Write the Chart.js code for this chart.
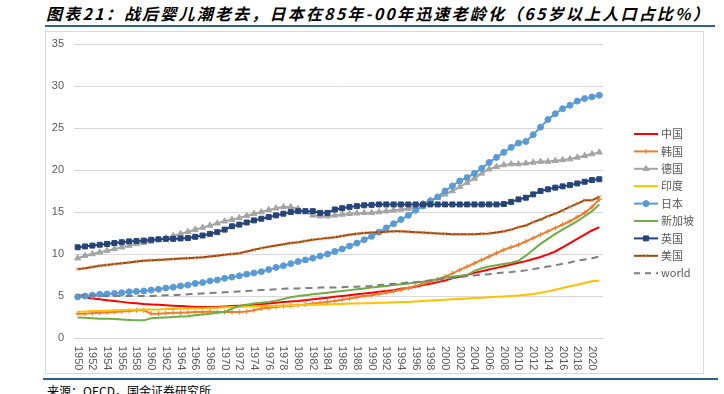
<!DOCTYPE html>
<html>
<head>
<meta charset="utf-8">
<script src="https://cdn.jsdelivr.net/npm/chart.js@4/dist/chart.umd.min.js"></script>
<style>
  body { margin: 0; width: 724px; height: 394px; overflow: hidden; background: #fff; font-family: "Noto Sans CJK SC", "Liberation Sans", sans-serif; }
  #title { position: absolute; left: 46px; top: 1px; font-size: 16px; font-weight: bold; font-style: italic; color: #000; letter-spacing: 2.2px; white-space: nowrap; }
  .rule { position: absolute; height: 2px; background: #2f5f86; }
  #box { position: absolute; left: 45px; top: 31px; width: 657px; height: 341px; border: 1px solid #d9d9d9; }
  #source { position: absolute; left: 47px; top: 382px; font-size: 12px; color: #000; white-space: nowrap; }
</style>
</head>
<body>
<div id="title">图表21：战后婴儿潮老去，日本在85年-00年迅速老龄化（65岁以上人口占比%）</div>
<div class="rule" style="left:45px; top:25px; width:670px;"></div>
<div id="box"><canvas id="chart" width="657" height="341"></canvas></div>
<div class="rule" style="left:43px; top:378px; width:675px;"></div>
<div id="source">来源：OECD，国金证券研究所</div>
<script>
var years = [];
for (var y = 1950; y <= 2021; y++) years.push(String(y));

var china = [5.0, 4.85, 4.7, 4.6, 4.5, 4.4, 4.3, 4.2, 4.15, 4.05, 4.0, 3.95, 3.9, 3.85, 3.8, 3.75, 3.7, 3.7, 3.7, 3.7,
  3.75, 3.8, 3.85, 3.9, 3.95, 4.05, 4.1, 4.2, 4.3, 4.35, 4.4, 4.5, 4.6, 4.7, 4.8, 4.9, 5.0, 5.1, 5.2, 5.3,
  5.4, 5.5, 5.6, 5.7, 5.85, 5.95, 6.1, 6.3, 6.45, 6.65, 6.85, 7.1, 7.3, 7.5, 7.75, 7.95, 8.15, 8.35, 8.55, 8.75,
  8.95, 9.15, 9.4, 9.65, 9.95, 10.3, 10.8, 11.3, 11.8, 12.3, 12.8, 13.2];
var korea = [2.9, 2.9, 2.95, 3.0, 3.05, 3.1, 3.15, 3.2, 3.3, 3.3, 2.9, 2.9, 2.95, 3.0, 3.0, 3.05, 3.1, 3.1, 3.15, 3.1,
  3.1, 3.1, 3.1, 3.15, 3.3, 3.5, 3.6, 3.7, 3.8, 3.85, 3.9, 4.0, 4.1, 4.2, 4.3, 4.4, 4.55, 4.7, 4.85, 5.0,
  5.1, 5.25, 5.4, 5.55, 5.75, 5.95, 6.2, 6.45, 6.7, 7.0, 7.3, 7.7, 8.1, 8.5, 8.9, 9.3, 9.7, 10.1, 10.5, 10.8,
  11.1, 11.5, 11.9, 12.3, 12.7, 13.1, 13.5, 13.9, 14.4, 14.9, 15.6, 16.5];
var germany = [9.5, 9.8, 10.0, 10.2, 10.4, 10.6, 10.8, 11.0, 11.2, 11.35, 11.5, 11.7, 11.9, 12.15, 12.4, 12.65, 12.9, 13.15, 13.4, 13.65,
  13.9, 14.1, 14.3, 14.55, 14.8, 15.0, 15.25, 15.45, 15.6, 15.6, 15.4, 15.0, 14.6, 14.5, 14.5, 14.6, 14.7, 14.8, 14.85, 14.9,
  14.9, 15.0, 15.1, 15.2, 15.3, 15.4, 15.6, 16.0, 16.4, 16.7, 17.1, 17.5, 18.0, 18.5, 19.0, 19.6, 20.1, 20.4, 20.6, 20.7,
  20.7, 20.8, 20.9, 21.0, 21.0, 21.1, 21.2, 21.3, 21.5, 21.7, 21.9, 22.1];
var india = [3.1, 3.15, 3.2, 3.2, 3.25, 3.3, 3.3, 3.35, 3.35, 3.4, 3.4, 3.4, 3.45, 3.45, 3.5, 3.5, 3.55, 3.55, 3.6, 3.6,
  3.65, 3.7, 3.7, 3.75, 3.75, 3.8, 3.8, 3.85, 3.85, 3.9, 3.9, 3.95, 3.95, 4.0, 4.0, 4.05, 4.05, 4.1, 4.1, 4.15,
  4.15, 4.2, 4.2, 4.25, 4.3, 4.3, 4.35, 4.4, 4.45, 4.5, 4.55, 4.6, 4.65, 4.7, 4.75, 4.8, 4.85, 4.9, 4.95, 5.0,
  5.05, 5.15, 5.25, 5.4, 5.55, 5.75, 5.95, 6.15, 6.35, 6.55, 6.75, 6.85];
var japan = [4.9, 5.0, 5.1, 5.2, 5.25, 5.3, 5.4, 5.5, 5.55, 5.6, 5.7, 5.8, 5.95, 6.05, 6.2, 6.3, 6.5, 6.6, 6.8, 6.9,
  7.1, 7.25, 7.4, 7.6, 7.75, 7.9, 8.15, 8.4, 8.6, 8.85, 9.1, 9.3, 9.5, 9.75, 10.0, 10.3, 10.6, 10.95, 11.3, 11.7,
  12.1, 12.6, 13.1, 13.6, 14.1, 14.6, 15.2, 15.7, 16.3, 16.8, 17.5, 18.1, 18.7, 19.1, 19.6, 20.2, 20.9, 21.5, 22.1, 22.7,
  23.2, 23.4, 24.2, 25.1, 26.0, 26.7, 27.3, 27.7, 28.2, 28.5, 28.7, 28.9];
var singapore = [2.45, 2.4, 2.35, 2.3, 2.3, 2.25, 2.2, 2.15, 2.1, 2.1, 2.35, 2.4, 2.45, 2.5, 2.55, 2.6, 2.7, 2.8, 2.9, 3.0,
  3.1, 3.5, 3.8, 3.95, 4.1, 4.2, 4.3, 4.45, 4.65, 4.85, 5.0, 5.1, 5.2, 5.3, 5.4, 5.5, 5.6, 5.7, 5.8, 5.9,
  6.0, 6.1, 6.2, 6.3, 6.4, 6.5, 6.6, 6.7, 6.85, 7.0, 7.2, 7.3, 7.4, 7.5, 8.0, 8.3, 8.5, 8.65, 8.8, 8.95,
  9.2, 9.8, 10.5, 11.2, 11.8, 12.4, 12.9, 13.4, 13.9, 14.5, 15.1, 15.9];
var uk = [10.8, 10.9, 11.0, 11.1, 11.2, 11.3, 11.4, 11.5, 11.55, 11.6, 11.7, 11.75, 11.8, 11.8, 11.85, 11.9, 12.05, 12.2, 12.4, 12.6,
  12.9, 13.3, 13.5, 13.75, 14.0, 14.2, 14.4, 14.6, 14.8, 15.0, 15.1, 15.1, 15.1, 14.9, 14.9, 15.3, 15.45, 15.6, 15.7, 15.8,
  15.85, 15.9, 15.9, 15.9, 15.9, 15.9, 15.9, 15.9, 15.9, 15.9, 15.9, 15.9, 15.9, 15.9, 15.9, 15.9, 15.9, 15.9, 15.95, 16.2,
  16.5, 16.7, 17.1, 17.5, 17.7, 17.9, 18.05, 18.2, 18.4, 18.6, 18.8, 18.9];
var usa = [8.2, 8.3, 8.45, 8.6, 8.7, 8.8, 8.9, 9.0, 9.1, 9.2, 9.25, 9.3, 9.35, 9.4, 9.45, 9.5, 9.55, 9.6, 9.7, 9.8,
  9.9, 10.0, 10.1, 10.3, 10.5, 10.7, 10.85, 11.0, 11.15, 11.3, 11.4, 11.55, 11.7, 11.8, 11.9, 12.0, 12.15, 12.3, 12.4, 12.5,
  12.55, 12.6, 12.65, 12.7, 12.7, 12.65, 12.6, 12.55, 12.5, 12.45, 12.4, 12.35, 12.35, 12.35, 12.35, 12.4, 12.45, 12.55, 12.7, 12.9,
  13.2, 13.4, 13.8, 14.1, 14.5, 14.8, 15.2, 15.6, 16.0, 16.4, 16.4, 16.8];
var world = [5.1, 5.1, 5.05, 5.0, 5.0, 5.0, 5.0, 5.0, 5.0, 5.0, 5.0, 5.05, 5.1, 5.1, 5.15, 5.2, 5.25, 5.3, 5.35, 5.4,
  5.45, 5.5, 5.55, 5.6, 5.65, 5.7, 5.75, 5.8, 5.85, 5.9, 5.9, 5.95, 5.95, 6.0, 6.0, 6.0, 6.05, 6.1, 6.1, 6.15,
  6.2, 6.3, 6.35, 6.45, 6.5, 6.6, 6.65, 6.75, 6.85, 6.95, 7.05, 7.15, 7.25, 7.35, 7.45, 7.55, 7.6, 7.7, 7.8, 7.85,
  7.95, 8.05, 8.2, 8.35, 8.5, 8.65, 8.85, 9.0, 9.2, 9.35, 9.5, 9.7];

var yTicks = [0, 5, 10, 15, 20, 25, 30, 35];

function series(label, data, color, style, radius, extra) {
  var ds = {
    label: label,
    data: data,
    borderColor: color,
    backgroundColor: color,
    borderWidth: 2,
    pointStyle: style || false,
    pointRadius: style ? radius : 0,
    pointBorderWidth: 1,
    pointBorderColor: color,
    pointBackgroundColor: color,
    tension: 0
  };
  for (var k in extra) ds[k] = extra[k];
  return ds;
}

var datasets = [
  series('中国', china, '#ff0000'),
  series('韩国', korea, '#ed7d31', 'cross', 2.5),
  series('德国', germany, '#a5a5a5', 'triangle', 3.5),
  series('印度', india, '#ffc000'),
  series('日本', japan, '#5b9bd5', 'circle', 3),
  series('新加坡', singapore, '#70ad47'),
  series('英国', uk, '#264478', 'rect', 3.5),
  series('美国', usa, '#9e480e', 'crossRot', 2.2, {pointBorderColor: '#d0773a'}),
  series('world', world, '#7f7f7f', null, 0, {borderDash: [7, 5]})
];
// later series on top, like the original
datasets.forEach(function (ds, i) { ds.order = datasets.length - i; });

// x labels read top-to-bottom, every second year
var xLabels = {
  id: 'xLabels',
  afterDraw: function (chart) {
    var ctx = chart.ctx, xs = chart.scales.x, top = chart.chartArea.bottom + 8;
    ctx.save();
    ctx.font = '11px "Liberation Sans", sans-serif';
    ctx.fillStyle = '#595959';
    ctx.textAlign = 'left';
    ctx.textBaseline = 'middle';
    years.forEach(function (yr, i) {
      if (i % 2) return;
      ctx.save();
      ctx.translate(xs.getPixelForValue(i), top);
      ctx.rotate(Math.PI / 2);
      ctx.fillText(yr, 0, 0);
      ctx.restore();
    });
    ctx.restore();
  }
};

var sideLegend = {
  id: 'sideLegend',
  afterDraw: function (chart) {
    var ctx = chart.ctx, x0 = 588, y0 = 102;
    ctx.save();
    ctx.font = '11px "Noto Sans CJK SC", sans-serif';
    ctx.textBaseline = 'middle';
    chart.data.datasets.forEach(function (ds, i) {
      var y = y0 + i * 17.4;
      ctx.strokeStyle = ds.borderColor;
      ctx.lineWidth = 2;
      ctx.setLineDash(ds.borderDash ? [6, 5] : []);
      ctx.beginPath();
      ctx.moveTo(x0, y);
      ctx.lineTo(x0 + 24, y);
      ctx.stroke();
      ctx.setLineDash([]);
      if (ds.pointStyle) {
        ctx.fillStyle = ds.pointBackgroundColor;
        ctx.strokeStyle = ds.pointBorderColor;
        ctx.lineWidth = 1;
        Chart.helpers.drawPoint(ctx, {
          pointStyle: ds.pointStyle, radius: ds.pointRadius, rotation: 0, borderWidth: 1
        }, x0 + 12, y);
      }
      ctx.fillStyle = '#595959';
      ctx.fillText(ds.label, x0 + 27, y);
    });
    ctx.restore();
  }
};

new Chart(document.getElementById('chart'), {
  type: 'line',
  data: { labels: years, datasets: datasets },
  plugins: [xLabels, sideLegend],
  options: {
    responsive: false,
    animation: false,
    layout: { padding: { top: 12, right: 100, bottom: 27, left: 0 } },
    plugins: { legend: { display: false }, tooltip: { enabled: false } },
    scales: {
      x: {
        offset: true,
        grid: { display: false },
        border: { color: '#d9d9d9' },
        ticks: { display: false }
      },
      y: {
        min: 0,
        max: 35,
        afterBuildTicks: function (scale) {
          scale.ticks = yTicks.map(function (v) { return { value: v }; });
        },
        afterFit: function (scale) { scale.width = 28; scale.paddingTop = 0; },
        grid: { color: '#d9d9d9', drawTicks: false },
        border: { display: false },
        ticks: {
          padding: 10,
          color: '#595959',
          font: { family: '"Liberation Sans", sans-serif', size: 11 }
        }
      }
    }
  }
});
</script>
</body>
</html>
